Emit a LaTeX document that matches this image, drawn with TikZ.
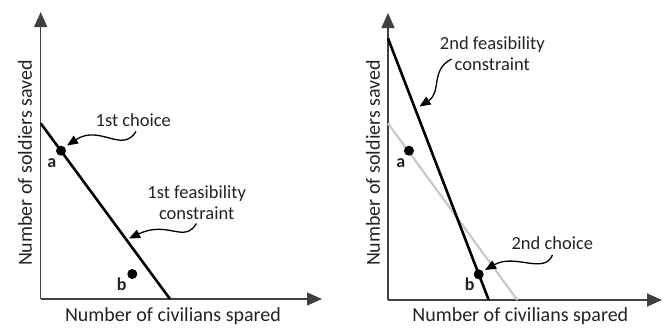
\documentclass[tikz,border=0pt]{standalone}
\usepackage{fontspec}
\setmainfont{Carlito}
\usetikzlibrary{arrows.meta}
\definecolor{axisgray}{RGB}{64,64,64}
\definecolor{textgray}{RGB}{35,35,35}
\definecolor{oldline}{RGB}{200,200,200}
\tikzset{
  achse/.style={line width=1.5pt,draw=axisgray,-{Triangle[length=15pt,width=13pt]}},
  grenze/.style={line width=2.6pt,draw=black},
  altgrenze/.style={line width=2.2pt,draw=oldline},
  punkt/.style={circle,fill=black,inner sep=0pt,minimum size=10pt},
  pname/.style={font=\fontsize{18}{20}\selectfont\bfseries,text=textgray,inner sep=0pt},
  notiz/.style={font=\fontsize{18.5}{21}\selectfont,text=textgray,align=center,inner sep=0pt},
  titel/.style={font=\fontsize{20}{22}\selectfont,text=textgray,inner sep=0pt},
  zeiger/.style={line width=1.3pt,draw=black,-{Triangle[length=11pt,width=9pt]}}
}
\begin{document}
\begin{tikzpicture}[x=1pt,y=-1pt]
\useasboundingbox (0,0) rectangle (663,327);

% Links: erste Wahl
\coordinate (O1) at (40.7,299);
\coordinate (Y1) at (40.7,12);
\coordinate (X1) at (322,299);
\coordinate (G1a) at (40.7,123.3);
\coordinate (G1b) at (170,299);
\draw[achse] (O1) -- (Y1);
\draw[achse] (O1) -- (X1);
\draw[grenze] (G1a) -- (G1b);

\node[punkt] (a1) at (61,150.7) {};
\node[punkt] (b1) at (132.3,274) {};
\node[pname] (la1) at (51.7,163) {a};
\node[pname] (lb1) at (121.7,284) {b};

\node[notiz] (wahl1) at (133.3,120) {1st choice};
\node[notiz] (grenz1) at (196.7,202.5) {1st feasibility\\constraint};
\coordinate (z1) at (67,145.5);
\coordinate (z2) at (129,238.5);
\draw[zeiger] (136,131.5) .. controls (122,154) and (100,124) .. (z1);
\draw[zeiger] (196.5,223.5) .. controls (184,244) and (168,220) .. (z2);

\node[titel,rotate=90] (ylab1) at (25,163) {Number of soldiers saved};
\node[titel] (xlab1) at (173,316.5) {Number of civilians spared};

% Rechts: zweite Wahl
\coordinate (O2) at (388,300);
\coordinate (Y2) at (388,13);
\coordinate (X2) at (662,300);
\coordinate (G2a) at (388,38.3);
\coordinate (G2b) at (488.7,300);
\coordinate (G3a) at (388,123.3);
\coordinate (G3b) at (517.3,300);
\draw[achse] (O2) -- (Y2);
\draw[achse] (O2) -- (X2);
\draw[altgrenze] (G3a) -- (G3b);
\draw[grenze] (G2a) -- (G2b);

\node[punkt] (a2) at (409,150.7) {};
\node[punkt] (b2) at (478.7,274.3) {};
\node[pname] (la2) at (400.7,163) {a};
\node[pname] (lb2) at (469.7,284) {b};

\node[notiz] (grenz2) at (492.3,54) {2nd feasibility\\constraint};
\node[notiz] (wahl2) at (552.3,243.3) {2nd choice};
\coordinate (z3) at (419.5,106.5);
\coordinate (z4) at (485,270);
\draw[zeiger] (451.5,59) .. controls (430,70) and (442,92) .. (z3);
\draw[zeiger] (552.5,255) .. controls (544,275) and (515,253) .. (z4);

\node[titel,rotate=90] (ylab2) at (373,163) {Number of soldiers saved};
\node[titel] (xlab2) at (520.3,316.5) {Number of civilians spared};
\end{tikzpicture}
\end{document}
